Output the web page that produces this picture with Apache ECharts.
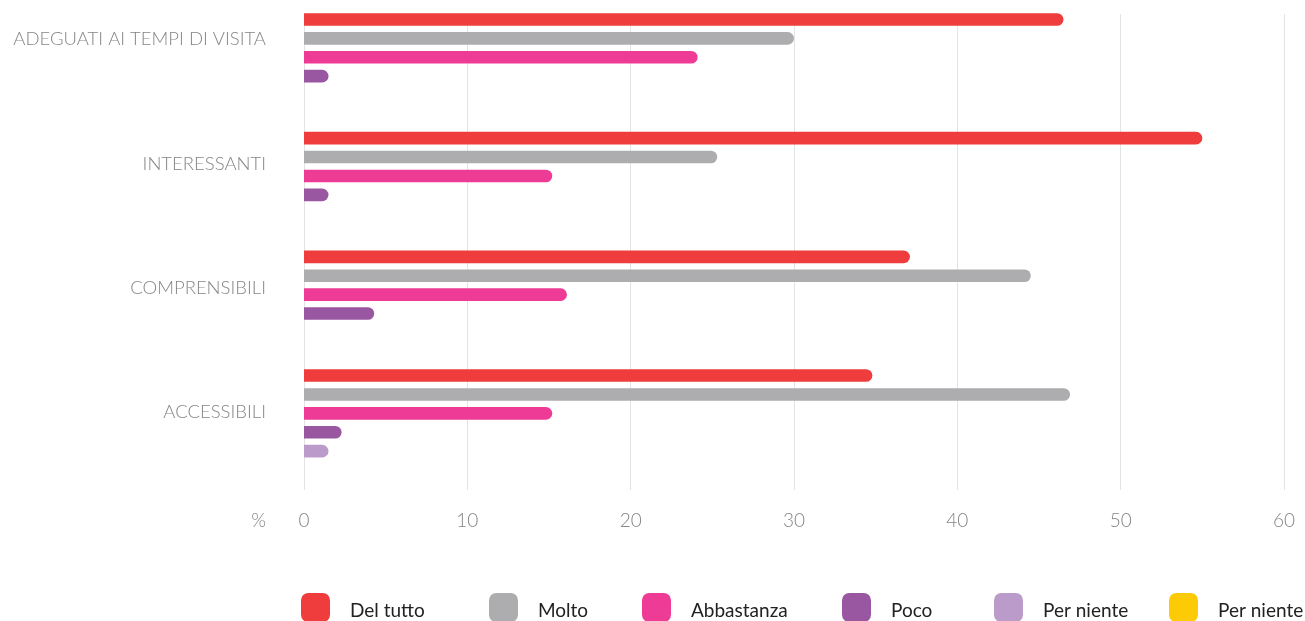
<!DOCTYPE html>
<html>
<head>
<meta charset="utf-8">
<script src="https://cdn.jsdelivr.net/npm/echarts@6/dist/echarts.min.js"></script>
<style>
  html, body { margin: 0; padding: 0; background: #fff; }
  #chart { width: 1305px; height: 621px; }
</style>
</head>
<body>
<div id="chart"></div>
<script>
// Survey answers (%) per aspect, one array per answer level
const categories = ['ADEGUATI AI TEMPI DI VISITA', 'INTERESSANTI', 'COMPRENSIBILI', 'ACCESSIBILI'];
const seriesLabels = ['Del tutto', 'Molto', 'Abbastanza', 'Poco', 'Per niente', 'Per niente'];
const delTutto   = [46.5, 55.0, 37.1, 34.8];
const molto      = [30.0, 25.3, 44.5, 46.9];
const abbastanza = [24.1, 15.2, 16.1, 15.2];
const poco       = [1.5, 1.5, 4.3, 2.3];
const perNiente  = [null, null, null, 1.5];
const perNiente2 = [null, null, null, null];
const xTicks = [0, 10, 20, 30, 40, 50, 60];

const seriesValues = [delTutto, molto, abbastanza, poco, perNiente, perNiente2];
const colors = ['#EF3D3D', '#ADADB0', '#EE3C96', '#9A57A1', '#BA9BCA', '#FDCB06'];
const legendLeft = [301, 489, 642, 842, 994, 1169];

const FONT = 'Lato, "Open Sans", sans-serif';
const AXIS_GREY = '#858585';

// repeated labels get a trailing space so each series keeps its own legend entry
const seen = {};
const seriesNames = seriesLabels.map(l => {
  let n = l;
  while (seen[n]) n += ' ';
  seen[n] = true;
  return n;
});

const chart = echarts.init(document.getElementById('chart'), null, { renderer: 'canvas' });

const plotLeft = 304, plotRight = 21;

const option = {
  backgroundColor: '#ffffff',
  animation: false,
  textStyle: { fontFamily: FONT },
  grid: [
    // bars
    { left: plotLeft, right: plotRight, top: 7.35, height: 474.8 },
    // grid lines and value ticks
    { left: plotLeft, right: plotRight, top: 14, height: 476 },
    // category labels
    { left: plotLeft, right: plotRight, top: 39.5, height: 373 }
  ],
  xAxis: [
    { gridIndex: 0, type: 'value', min: xTicks[0], max: xTicks[xTicks.length - 1], show: false },
    {
      gridIndex: 1, type: 'value', min: xTicks[0], max: xTicks[xTicks.length - 1], interval: 10,
      axisLine: { show: false }, axisTick: { show: false },
      splitLine: { show: true, lineStyle: { color: '#e3e3e3', width: 1 } },
      axisLabel: { margin: 21, color: AXIS_GREY, fontSize: 19, fontWeight: 300, fontFamily: FONT },
      name: '%', nameLocation: 'start', nameGap: 38,
      nameTextStyle: { color: AXIS_GREY, fontSize: 19, fontWeight: 300, fontFamily: FONT, verticalAlign: 'top', padding: [21, 0, 0, 0] }
    },
    { gridIndex: 2, type: 'value', min: 0, max: 60, show: false }
  ],
  yAxis: [
    { gridIndex: 0, type: 'category', data: categories, inverse: true, show: false },
    { gridIndex: 1, type: 'category', data: categories, inverse: true, show: false },
    {
      gridIndex: 2, type: 'category', data: categories, inverse: true, boundaryGap: false,
      axisLine: { show: false }, axisTick: { show: false }, splitLine: { show: false },
      axisLabel: { margin: 38, color: AXIS_GREY, fontSize: 18.5, fontWeight: 300, fontFamily: FONT }
    }
  ],
  legend: seriesNames.map((name, i) => ({
    data: [name],
    left: legendLeft[i],
    top: 593,
    padding: 0,
    itemWidth: 29,
    itemHeight: 29,
    icon: 'roundRect',
    selectedMode: false,
    formatter: n => '{t|' + n + '}',
    textStyle: {
      fontFamily: FONT,
      rich: { t: { fontSize: 19, color: '#222', fontFamily: FONT, padding: [7, 0, 0, 15] } }
    }
  })),
  series: seriesNames.map((name, i) => ({
    name,
    type: 'bar',
    xAxisIndex: 0,
    yAxisIndex: 0,
    data: seriesValues[i],
    barWidth: 12.6,
    barGap: '50%',
    itemStyle: { color: colors[i], borderRadius: [0, 6.3, 6.3, 0] },
    emphasis: { disabled: true }
  }))
};

chart.setOption(option);
</script>
</body>
</html>
